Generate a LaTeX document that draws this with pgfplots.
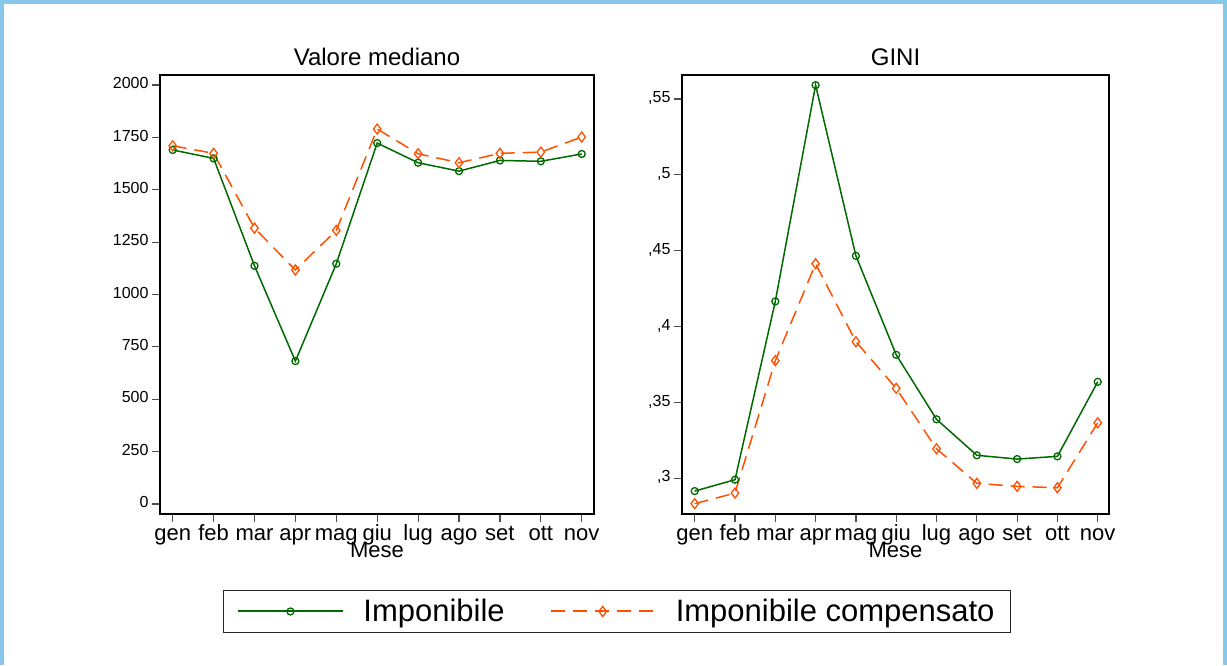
\documentclass[border=0pt]{standalone}
\usepackage{fontspec}
\setmainfont{Liberation Sans}
\usepackage{pgfplots}
\pgfplotsset{compat=1.18}
\definecolor{cgreen}{RGB}{0,105,0}
\definecolor{corange}{RGB}{255,80,0}
\definecolor{frameblue}{RGB}{135,200,235}
\begin{document}
\begin{tikzpicture}[x=1pt,y=1pt]
\fill[white] (0,0) rectangle (1227,665);
\fill[frameblue] (0,661) rectangle (1227,665);
\fill[frameblue] (0,0) rectangle (4,665);
\fill[frameblue] (1223,0) rectangle (1227,665);
\pgfplotsset{
  every axis/.append style={
    scale only axis,
    anchor=south west,
    xtick={0,...,10},
    xticklabels={gen,feb,mar,apr,mag,giu,lug,ago,set,ott,nov},
    tick align=outside,
    major tick length=8pt,
    xtick pos=bottom, ytick pos=left,
    tick style={black!70, line width=1.2pt},
    axis line style={black, line width=1.2pt},
    typeset ticklabels with strut,
    x tick label style={font=\fontsize{22}{24}\selectfont, inner ysep=1pt},
    y tick label style={font=\fontsize{16}{18}\selectfont},
    xlabel={Mese},
    xlabel style={font=\fontsize{22}{24}\selectfont, at={(axis description cs:0.5,0)}, anchor=base, yshift=-43pt},
    title style={font=\fontsize{24}{26}\selectfont},
    /pgf/number format/assume math mode=true,
    /pgf/number format/1000 sep={},
    legend image code/.code={\draw[mark repeat=2,mark phase=2,#1,line width=2pt] plot coordinates {(0pt,0pt) (52pt,0pt) (105pt,0pt)};},
  },
  imp/.style={color=cgreen, line width=1.5pt, mark=o, mark size=3.5pt, mark options={solid, line width=1.3pt}},
  comp/.style={color=corange, line width=1.5pt, dash pattern=on 14pt off 8pt, mark=diamond, mark size=5pt, mark options={solid, line width=1.3pt}},
}
\begin{axis}[
  at={(160pt,151pt)}, width=434pt, height=439pt,
  xmin=-0.31, xmax=10.30, ymin=-48, ymax=2048,
  ytick={0,250,...,2000},
  title={Valore mediano},
  legend columns=2,
  legend style={at={(1.053,-0.222)}, anchor=center, draw=black!85, line width=1.2pt,
    font=\fontsize{31}{33}\selectfont, inner xsep=14pt, inner ysep=7pt,
    /tikz/every odd column/.append style={column sep=17pt},
    /tikz/every even column/.append style={column sep=43pt}},
]
\addplot[imp] coordinates {(0,1690) (1,1650) (2,1137) (3,682) (4,1147) (5,1723) (6,1629) (7,1589) (8,1640) (9,1636) (10,1671)};
\addlegendentry{Imponibile}
\addplot[comp] coordinates {(0,1710) (1,1674) (2,1317) (3,1117) (4,1306) (5,1790) (6,1672) (7,1629) (8,1674) (9,1680) (10,1752)};
\addlegendentry{Imponibile compensato}
\end{axis}
\begin{axis}[
  at={(682pt,151pt)}, width=427pt, height=439pt,
  xmin=-0.315, xmax=10.28, ymin=0.2765, ymax=0.5658,
  ytick={0.3,0.35,0.4,0.45,0.5,0.55},
  yticklabels={{,3},{,35},{,4},{,45},{,5},{,55}},
  title={GINI},
]
\addplot[imp] coordinates {(0,0.2916) (1,0.2991) (2,0.4166) (3,0.5591) (4,0.4466) (5,0.3814) (6,0.3389) (7,0.3152) (8,0.3127) (9,0.3145) (10,0.3636)};
\addplot[comp] coordinates {(0,0.2833) (1,0.2903) (2,0.3775) (3,0.4414) (4,0.3900) (5,0.3593) (6,0.3195) (7,0.2967) (8,0.2947) (9,0.2938) (10,0.3366)};
\end{axis}
\end{tikzpicture}
\end{document}
